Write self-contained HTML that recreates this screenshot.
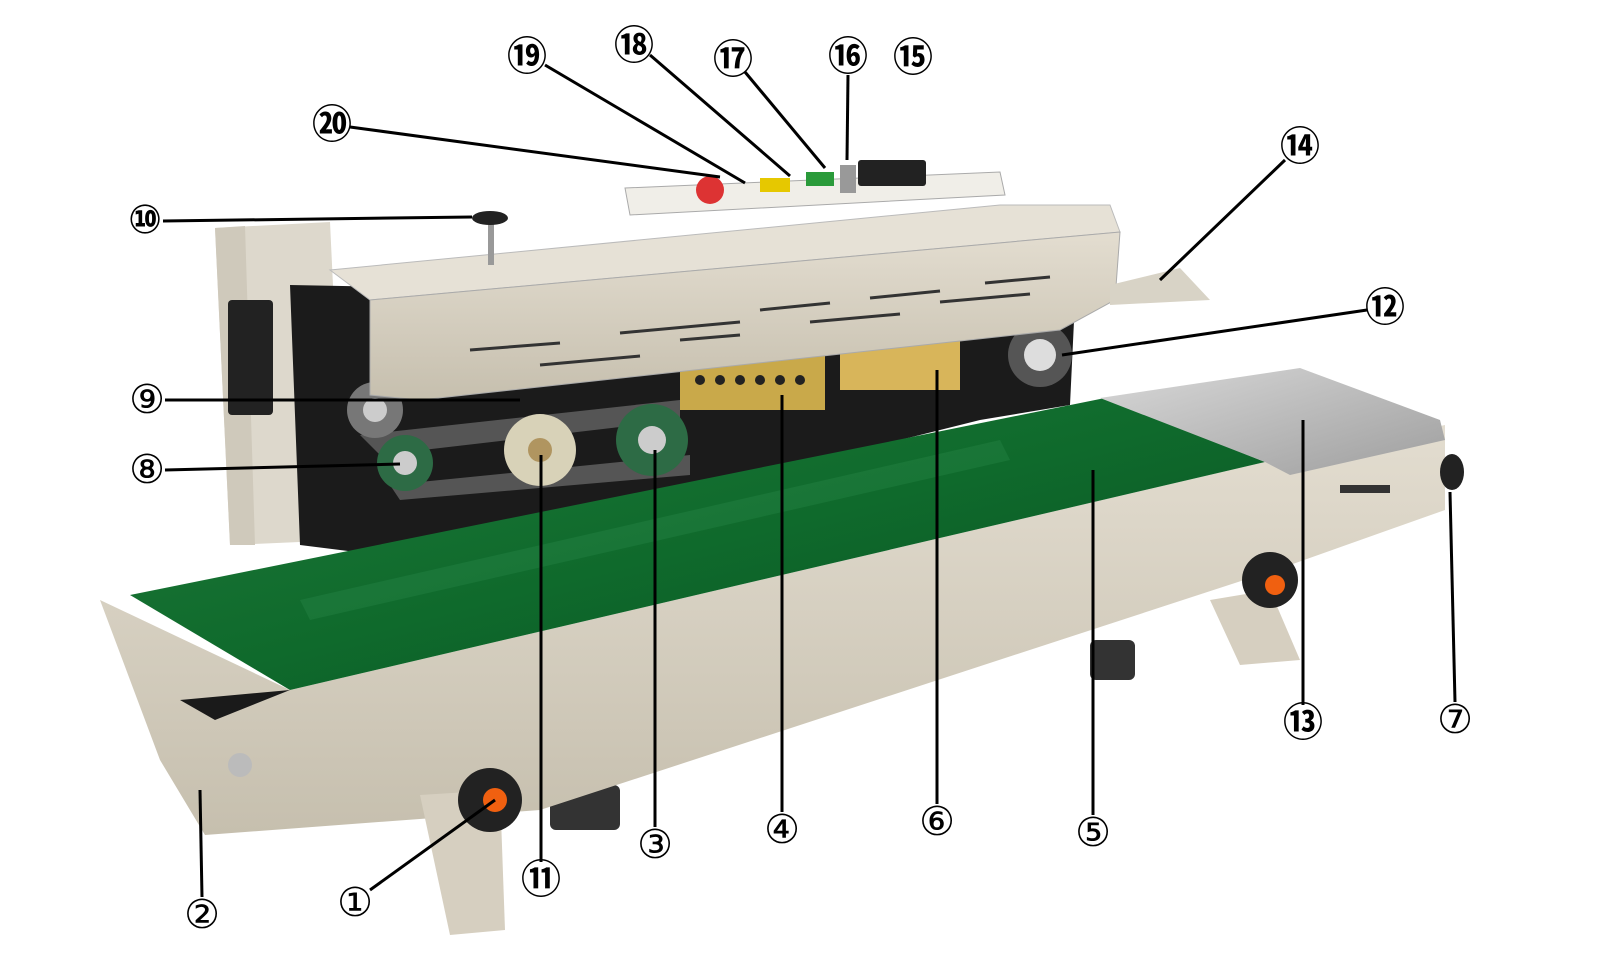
<!DOCTYPE html>
<html><head><meta charset="utf-8">
<style>
html,body{margin:0;padding:0;background:#fff;}
svg{display:block;}
text{font-family:"DejaVu Sans","Noto Sans CJK SC",sans-serif;fill:#000;}
</style></head>
<body>
<svg width="1600" height="980" viewBox="0 0 1600 980" xmlns="http://www.w3.org/2000/svg">
<defs>
<linearGradient id="beige" x1="0" y1="0" x2="0" y2="1">
<stop offset="0" stop-color="#e3ddd0"/><stop offset="1" stop-color="#c6bfae"/></linearGradient>
<linearGradient id="green" x1="0" y1="0" x2="1" y2="1">
<stop offset="0" stop-color="#1f7a3a"/><stop offset="0.5" stop-color="#0f6a2c"/><stop offset="1" stop-color="#0b4f22"/></linearGradient>
<linearGradient id="steel" x1="0" y1="0" x2="1" y2="1">
<stop offset="0" stop-color="#d8d8d8"/><stop offset="1" stop-color="#9e9e9e"/></linearGradient>
</defs>

<!-- back box -->
<polygon points="215,228 330,222 345,540 230,545" fill="#ddd8cc"/>
<polygon points="215,228 245,226 255,545 230,545" fill="#cfc9bb"/>
<rect x="228" y="300" width="45" height="115" fill="#222" rx="4"/>
<!-- black panel -->
<polygon points="290,285 1075,300 1070,405 980,420 420,560 300,545" fill="#1b1b1b"/>
<rect x="680" y="355" width="145" height="55" fill="#c9a94a"/>
<rect x="840" y="340" width="120" height="50" fill="#d8b55a"/>
<g fill="#222"><circle cx="700" cy="380" r="5"/><circle cx="720" cy="380" r="5"/><circle cx="740" cy="380" r="5"/><circle cx="760" cy="380" r="5"/><circle cx="780" cy="380" r="5"/><circle cx="800" cy="380" r="5"/></g>
<polygon points="360,435 680,400 680,420 380,455" fill="#555"/>
<polygon points="390,485 690,455 690,475 400,500" fill="#555"/>
<circle cx="375" cy="410" r="28" fill="#777"/><circle cx="375" cy="410" r="12" fill="#ccc"/>
<circle cx="405" cy="463" r="28" fill="#2d6b45"/><circle cx="405" cy="463" r="12" fill="#ccc"/>
<circle cx="540" cy="450" r="36" fill="#d8d2b8"/><circle cx="540" cy="450" r="12" fill="#b09560"/>
<circle cx="652" cy="440" r="36" fill="#2d6b45"/><circle cx="652" cy="440" r="14" fill="#ccc"/>
<circle cx="1040" cy="355" r="32" fill="#555"/><circle cx="1040" cy="355" r="16" fill="#ddd"/>
<!-- lid -->
<polygon points="330,270 1000,205 1110,205 1120,232 370,300" fill="#e6e1d6" stroke="#bbb"/>
<polygon points="370,300 1120,232 1115,300 1060,330 420,400 370,395" fill="url(#beige)" stroke="#aaa"/>
<g stroke="#333" stroke-width="3">
<line x1="470" y1="350" x2="560" y2="343"/><line x1="620" y1="333" x2="740" y2="322"/><line x1="760" y1="310" x2="830" y2="303"/><line x1="870" y1="298" x2="940" y2="291"/><line x1="985" y1="283" x2="1050" y2="277"/>
<line x1="540" y1="365" x2="640" y2="356"/><line x1="680" y1="340" x2="740" y2="335"/><line x1="810" y1="322" x2="900" y2="314"/><line x1="940" y1="302" x2="1030" y2="294"/>
</g>
<polygon points="625,188 1000,172 1005,195 630,215" fill="#f0eee8" stroke="#aaa"/>
<rect x="858" y="160" width="68" height="26" fill="#222" rx="3"/>
<circle cx="710" cy="190" r="14" fill="#d33"/>
<rect x="760" y="178" width="30" height="14" fill="#e6c800"/>
<rect x="806" y="172" width="28" height="14" fill="#2a9a3a"/>
<rect x="840" y="165" width="16" height="28" fill="#999"/>
<rect x="488" y="220" width="6" height="45" fill="#999"/><ellipse cx="490" cy="218" rx="18" ry="7" fill="#222"/>
<polygon points="1110,285 1180,268 1210,300 1110,305" fill="#d8d3c6"/>

<!-- legs / feet behind -->
<polygon points="1210,600 1270,590 1300,660 1240,665" fill="#d6cfc0"/>
<rect x="1090" y="640" width="45" height="40" fill="#333" rx="6"/>
<rect x="550" y="785" width="70" height="45" fill="#333" rx="6"/>
<!-- conveyor body -->
<polygon points="100,600 290,690 1265,462 1445,425 1445,510 1290,565 540,810 205,835 160,760" fill="url(#beige)"/>
<polygon points="130,595 1105,398 1265,462 290,690" fill="url(#green)"/>
<polygon points="300,600 1000,440 1010,460 310,620" fill="#2a8a4a" opacity="0.35"/>
<polygon points="180,700 290,690 215,720" fill="#1a1a1a"/>
<polygon points="1100,398 1300,368 1440,420 1445,440 1290,475 1265,462" fill="url(#steel)"/>
<polygon points="420,795 500,790 505,930 450,935" fill="#d6cfc0"/>
<circle cx="490" cy="800" r="32" fill="#222"/><circle cx="495" cy="800" r="12" fill="#f06010"/>
<circle cx="1270" cy="580" r="28" fill="#222"/><circle cx="1275" cy="585" r="10" fill="#f06010"/>
<ellipse cx="1452" cy="472" rx="12" ry="18" fill="#222"/>
<rect x="1340" y="485" width="50" height="8" fill="#333"/>
<circle cx="240" cy="765" r="12" fill="#bbb"/>

<g stroke="#000" stroke-width="3" fill="none">
<line x1="545" y1="65" x2="745" y2="183"/>
<line x1="650" y1="55" x2="790" y2="176"/>
<line x1="745" y1="72" x2="825" y2="168"/>
<line x1="848" y1="75" x2="847" y2="160"/>
<line x1="350" y1="127" x2="720" y2="177"/>
<line x1="1285" y1="160" x2="1160" y2="280"/>
<line x1="163" y1="221" x2="472" y2="217"/>
<line x1="1367" y1="310" x2="1062" y2="355"/>
<line x1="165" y1="400" x2="520" y2="400"/>
<line x1="165" y1="470" x2="400" y2="464"/>
<line x1="782" y1="812" x2="782" y2="395"/>
<line x1="937" y1="804" x2="937" y2="370"/>
<line x1="1093" y1="815" x2="1093" y2="470"/>
<line x1="1303" y1="705" x2="1303" y2="420"/>
<line x1="1455" y1="702" x2="1450" y2="492"/>
<line x1="655" y1="827" x2="655" y2="450"/>
<line x1="541" y1="862" x2="541" y2="455"/>
<line x1="370" y1="890" x2="495" y2="800"/>
<line x1="202" y1="897" x2="200" y2="790"/>
</g>
<g font-size="40" text-anchor="middle" dominant-baseline="central">
<text x="782" y="830">④</text><text x="937" y="822">⑥</text><text x="1093" y="833">⑤</text>
<text x="1455" y="720">⑦</text><text x="655" y="845">③</text>
<text x="355" y="903">①</text><text x="202" y="915">②</text>
<text x="147" y="400">⑨</text><text x="147" y="470">⑧</text>
</g>
<g font-size="40" font-weight="bold" text-anchor="middle" dominant-baseline="central">
<text x="527" y="57">⑲</text><text x="634" y="46">⑱</text><text x="733" y="60">⑰</text>
<text x="848" y="57">⑯</text><text x="913" y="58">⑮</text><text x="332" y="125">⑳</text>
<text x="1300" y="147">⑭</text><text x="145" y="220">⑩</text><text x="1385" y="308">⑫</text>
<text x="1303" y="723">⑬</text><text x="541" y="880">⑪</text>
</g>
</svg>
</body></html>
